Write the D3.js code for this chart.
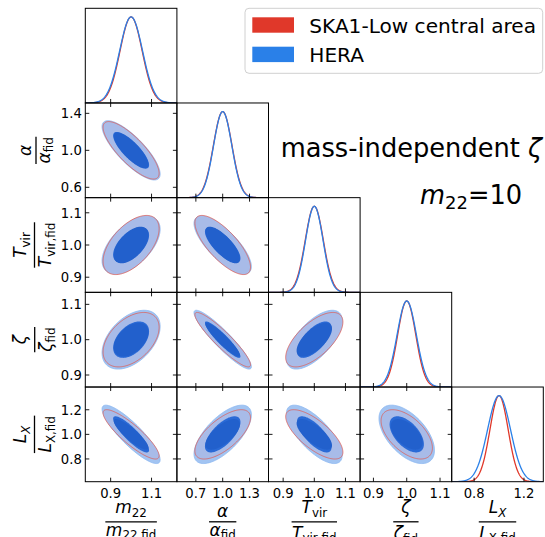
<!DOCTYPE html>
<html>
<head>
<meta charset="utf-8">
<script src="https://cdn.jsdelivr.net/npm/d3@7"></script>
<style>
  body { margin: 0; background: #fff; }
  svg { display: block; font-family: "DejaVu Sans", sans-serif; }
</style>
</head>
<body>
<svg id="chart" width="545" height="537"></svg>
<script>
// ---- data -------------------------------------------------------------
const params = ["m22", "alpha", "Tvir", "zeta", "Lx"];
const experiments = ["SKA1-Low central area", "HERA"];
const fiducial = [1, 1, 1, 1, 1];

// plotted ranges (x for columns / diagonal, y for rows)
const xDomains = [[0.776, 1.224], [0.488, 1.512], [0.853, 1.147], [0.86, 1.135], [0.62, 1.355]];
const yDomains = [null, [0.488, 1.512], [0.853, 1.147], [0.866, 1.134], [0.615, 1.385]];
const xTicks = [[0.9, 1.1], [0.7, 1.0, 1.3], [0.9, 1.0, 1.1], [0.9, 1.0, 1.1], [0.8, 1.2]];
const yTicks = [null, [0.6, 1.0, 1.4], [0.9, 1.0, 1.1], [0.9, 1.0, 1.1], [0.8, 1.0, 1.2]];

// 1D marginal widths
const sigma1dSKA  = [0.054, 0.104, 0.029, 0.0272, 0.073];
const sigma1dHERA = [0.056, 0.102, 0.028, 0.029, 0.092];
// 2D marginal widths
const sigmaSKA  = [0.056, 0.127, 0.0375, 0.0315, 0.082];
const sigmaHERA = [0.058, 0.131, 0.0365, 0.034, 0.097];
// correlation coefficients, row j holds (j,0..j-1)
const corrSKA = [
  [],
  [-0.80],
  [0.55, -0.75],
  [0.45, -0.92, 0.65],
  [-0.87, 0.67, -0.72, -0.55]
];
const corrHERA = [
  [],
  [-0.80],
  [0.55, -0.75],
  [0.45, -0.92, 0.65],
  [-0.87, 0.67, -0.72, -0.55]
];

// axis label pieces: [text, style]
const axisLabels = [
  { num: [["m", "i"], ["22", "sub"]],  den: [["m", "i"], ["22,fid", "sub"]] },
  { num: [["α", "i"]],                 den: [["α", "i"], ["fid", "sub"]] },
  { num: [["T", "i"], ["vir", "sub"]], den: [["T", "i"], ["vir,fid", "sub"]] },
  { num: [["ζ", "i"]],                 den: [["ζ", "i"], ["fid", "sub"]] },
  { num: [["L", "i"], ["X", "subi"]],  den: [["L", "i"], ["X,fid", "sub"]] }
];

// ---- layout ------------------------------------------------------------
const svg = d3.select("#chart");
const N = params.length;
const gridLeft = 85.3, gridTop = 8.3, cw = 91.6, rh = 94.68;
const red = "#e0382a", blue = "#2a80e8";
const tickLen = 4;
const levels = [2.448, 1.515]; // 95% and 68% for 2 dof

const xs = xDomains.map((d, i) => d3.scaleLinear().domain(d).range([gridLeft + i * cw, gridLeft + (i + 1) * cw]));
const ys = yDomains.map((d, j) => d ? d3.scaleLinear().domain(d).range([gridTop + (j + 1) * rh, gridTop + j * rh]) : null);

const defs = svg.append("defs");
const plot = svg.append("g");
const axes = svg.append("g");
const fmt = d3.format(".1f");

function richText(sel, parts, size) {
  parts.forEach(([t, s]) => {
    const ts = sel.append("tspan").text(t);
    if (s === "i") ts.attr("font-style", "italic").attr("font-size", size);
    if (s === "sub" || s === "subi") {
      ts.attr("font-size", size * 0.7).attr("dy", size * 0.2);
      if (s === "subi") ts.attr("font-style", "italic");
    }
  });
}

function ellipsePoints(mx, my, sx, sy, r, k) {
  // Cholesky of [[sx², r sx sy],[r sx sy, sy²]]
  const a = sx, b = r * sy, c = sy * Math.sqrt(1 - r * r);
  return d3.range(0, 2 * Math.PI + 1e-9, Math.PI / 90).map(t => {
    const u = Math.cos(t) * k, v = Math.sin(t) * k;
    return [mx + a * u, my + b * u + c * v];
  });
}

for (let j = 0; j < N; j++) {
  for (let i = 0; i <= j; i++) {
    const x0 = gridLeft + i * cw, y0 = gridTop + j * rh;
    const id = `clip${i}${j}`;
    defs.append("clipPath").attr("id", id)
      .append("rect").attr("x", x0).attr("y", y0).attr("width", cw).attr("height", rh);
    const g = plot.append("g").attr("clip-path", `url(#${id})`);
    const x = xs[i];

    if (i === j) {
      // 1D marginals
      const yd = d3.scaleLinear().domain([0, 1.1]).range([y0 + rh, y0]);
      const grid = d3.range(xDomains[i][0], xDomains[i][1], (xDomains[i][1] - xDomains[i][0]) / 300)
        .concat([xDomains[i][1]]);
      const line = d3.line().x(d => x(d[0])).y(d => yd(d[1]));
      [[sigma1dSKA, red], [sigma1dHERA, blue]].forEach(([sg, col]) => {
        const pts = grid.map(v => [v, Math.exp(-0.5 * ((v - fiducial[i]) / sg[i]) ** 2)]);
        g.append("path").attr("d", line(pts)).attr("fill", "none")
          .attr("stroke", col).attr("stroke-width", 1.3);
      });
    } else {
      const y = ys[j];
      const line = d3.line().x(d => x(d[0])).y(d => y(d[1])).curve(d3.curveLinearClosed);
      const ell = (sg, cr, k) => line(ellipsePoints(fiducial[i], fiducial[j], sg[i], sg[j], cr[j][i], k));
      // outer (95%) regions
      g.append("path").attr("d", ell(sigmaHERA, corrHERA, levels[0]))
        .attr("fill", "#a2c4f2").attr("stroke", "#8ab6f0").attr("stroke-width", 0.8);
      g.append("path").attr("d", ell(sigmaSKA, corrSKA, levels[0]))
        .attr("fill", "#a8bbe8").attr("stroke", "none");
      // inner (68%) regions
      g.append("path").attr("d", ell(sigmaHERA, corrHERA, levels[1])).attr("fill", "#2a6ad6");
      g.append("path").attr("d", ell(sigmaSKA, corrSKA, levels[1])).attr("fill", "#2260cc");
      // SKA outer boundary
      g.append("path").attr("d", ell(sigmaSKA, corrSKA, levels[0]))
        .attr("fill", "none").attr("stroke", "#e05a50").attr("stroke-width", 0.9).attr("opacity", 0.85);
    }

    // frame
    axes.append("rect").attr("x", x0).attr("y", y0).attr("width", cw).attr("height", rh)
      .attr("fill", "none").attr("stroke", "#000").attr("stroke-width", 1);

    // ticks (inward)
    const tk = axes.append("g").attr("stroke", "#000").attr("stroke-width", 0.9);
    xTicks[i].forEach(t => {
      const px = x(t);
      tk.append("line").attr("x1", px).attr("x2", px).attr("y1", y0 + rh).attr("y2", y0 + rh - tickLen);
      if (i !== j) tk.append("line").attr("x1", px).attr("x2", px).attr("y1", y0).attr("y2", y0 + tickLen);
    });
    if (i !== j) {
      yTicks[j].forEach(t => {
        const py = ys[j](t);
        tk.append("line").attr("x1", x0).attr("x2", x0 + tickLen).attr("y1", py).attr("y2", py);
        tk.append("line").attr("x1", x0 + cw).attr("x2", x0 + cw - tickLen).attr("y1", py).attr("y2", py);
      });
    }

    // tick labels
    if (i === 0 && j > 0) {
      yTicks[j].forEach(t => {
        axes.append("text").attr("x", x0 - 3.5).attr("y", ys[j](t)).attr("dy", "0.36em")
          .attr("text-anchor", "end").attr("font-size", 13.2).text(fmt(t));
      });
    }
    if (j === N - 1) {
      xTicks[i].forEach(t => {
        axes.append("text").attr("x", x(t)).attr("y", y0 + rh + 16.2)
          .attr("text-anchor", "middle").attr("font-size", 13.2).text(fmt(t));
      });
    }
  }
}

// ---- fraction axis labels ----------------------------------------------
const labelSize = 17;
const numOff = [8.4, 5, 8.4, 8.5, 8.4];
const denOff = [13.8, 13.8, 16.9, 17.4, 16.9];

function fraction(g, k) {
  const num = g.append("text").attr("text-anchor", "middle").attr("y", -numOff[k]).attr("font-size", labelSize);
  richText(num, axisLabels[k].num, labelSize);
  const den = g.append("text").attr("text-anchor", "middle").attr("y", denOff[k]).attr("font-size", labelSize);
  richText(den, axisLabels[k].den, labelSize);
  const w = Math.max(num.node().getComputedTextLength(), den.node().getComputedTextLength()) + 1;
  g.append("line").attr("x1", -w / 2).attr("x2", w / 2).attr("y1", 0).attr("y2", 0)
    .attr("stroke", "#000").attr("stroke-width", 1.3);
}

for (let i = 0; i < N; i++) {
  const g = axes.append("g").attr("transform", `translate(${gridLeft + (i + 0.5) * cw},521.8)`);
  fraction(g, i);
}
const yBar = [0, 36, 34.5, 34.7, 34.5];
for (let j = 1; j < N; j++) {
  const g = axes.append("g").attr("transform", `translate(${yBar[j]},${gridTop + (j + 0.5) * rh}) rotate(-90)`);
  fraction(g, j);
}

// ---- legend ------------------------------------------------------------
const lg = svg.append("g");
lg.append("rect").attr("x", 245).attr("y", 8.3).attr("width", 297.7).attr("height", 65)
  .attr("rx", 4).attr("fill", "#fff").attr("stroke", "#d0d0d0").attr("stroke-width", 1);
[[experiments[0], red], [experiments[1], blue]].forEach(([name, col], k) => {
  const yy = 17.3 + k * 29.4;
  lg.append("rect").attr("x", 252.3).attr("y", yy).attr("width", 41.7).attr("height", 15.4).attr("fill", col);
  lg.append("text").attr("x", 309.3).attr("y", yy + 15.2).attr("font-size", 20.1).text(name);
});

// ---- annotations -------------------------------------------------------
const t1 = svg.append("text").attr("x", 280.7).attr("y", 156.7).attr("font-size", 25.7);
richText(t1, [["mass-independent ", "n"], ["ζ", "i"]], 25.7);
const t2 = svg.append("text").attr("x", 420).attr("y", 204).attr("font-size", 25.7);
richText(t2, [["m", "i"], ["22", "sub"]], 25.7);
t2.append("tspan").attr("dy", -25.7 * 0.2).text("=10");
</script>
</body>
</html>
